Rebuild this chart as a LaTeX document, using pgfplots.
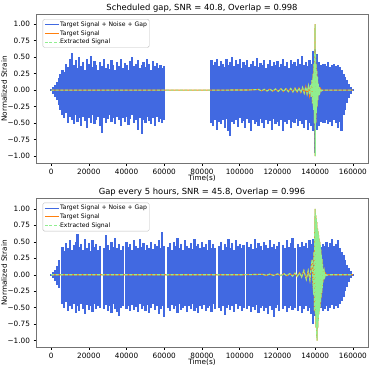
\documentclass[border=0pt]{standalone}
\usepackage{pgfplots}
\usepackage{pgfplotstable}
\pgfplotsset{compat=1.18}
\usepackage{fontspec}
\setmainfont{DejaVu Sans}
\definecolor{royal}{RGB}{65,105,225}
\definecolor{mplorange}{RGB}{255,127,14}
\definecolor{lgreen}{RGB}{144,238,144}

\pgfplotstableread{
x u d
0 0.01 -0.01
1000 0.05 -0.06
2000 0.08 -0.10
3000 0.12 -0.15
4000 0.18 -0.22
5000 0.25 -0.30
6000 0.30 -0.38
7000 0.28 -0.42
8000 0.40 -0.35
9000 0.35 -0.50
10000 0.48 -0.40
11000 0.57 -0.45
12000 0.38 -0.52
13000 0.45 -0.38
14000 0.33 -0.48
15000 0.50 -0.42
16000 0.36 -0.55
17000 0.42 -0.40
18000 0.30 -0.47
19000 0.47 -0.58
20000 0.40 -0.43
21000 0.52 -0.50
22000 0.35 -0.38
23000 0.44 -0.52
24000 0.38 -0.45
25000 0.30 -0.40
26000 0.43 -0.55
27000 0.36 -0.65
28000 0.48 -0.42
29000 0.34 -0.50
30000 0.40 -0.44
31000 0.32 -0.38
32000 0.45 -0.48
33000 0.38 -0.42
34000 0.30 -0.52
35000 0.42 -0.40
36000 0.36 -0.46
37000 0.47 -0.55
38000 0.33 -0.42
39000 0.41 -0.49
40000 0.38 -0.40
41000 0.31 -0.53
42000 0.44 -0.44
43000 0.50 -0.38
44000 0.36 -0.50
45000 0.40 -0.46
46000 0.46 -0.60
47000 0.33 -0.42
48000 0.38 -0.66
49000 0.42 -0.45
50000 0.35 -0.50
51000 0.48 -0.40
52000 0.39 -0.47
53000 0.30 -0.52
54000 0.44 -0.43
55000 0.37 -0.55
56000 0.41 -0.40
57000 0.34 -0.48
58000 0.38 -0.44
59000 0.33 -0.50
60000 0.36 -0.45
85000 0.45 -0.50
86000 0.38 -0.55
87000 0.42 -0.45
88000 0.48 -0.60
89000 0.36 -0.48
90000 0.44 -0.52
91000 0.40 -0.46
92000 0.35 -0.58
93000 0.47 -0.44
94000 0.38 -0.62
95000 0.42 -0.70
96000 0.50 -0.48
97000 0.36 -0.52
98000 0.45 -0.45
99000 0.40 -0.56
100000 0.48 -0.42
101000 0.34 -0.50
102000 0.42 -0.47
103000 0.38 -0.58
104000 0.46 -0.44
105000 0.35 -0.50
106000 0.40 -0.62
107000 0.44 -0.45
108000 0.37 -0.52
109000 0.49 -0.48
110000 0.35 -0.55
111000 0.41 -0.44
112000 0.38 -0.50
113000 0.45 -0.58
114000 0.33 -0.45
115000 0.40 -0.52
116000 0.46 -0.47
117000 0.36 -0.60
118000 0.42 -0.44
119000 0.38 -0.52
120000 0.44 -0.48
121000 0.35 -0.55
122000 0.40 -0.45
123000 0.47 -0.62
124000 0.37 -0.48
125000 0.42 -0.52
126000 0.34 -0.45
127000 0.45 -0.58
128000 0.39 -0.48
129000 0.43 -0.50
130000 0.36 -0.44
131000 0.48 -0.55
132000 0.40 -0.47
133000 0.52 -0.52
134000 0.38 -0.58
135000 0.42 -0.46
136000 0.37 -0.60
137000 0.46 -0.50
138000 0.40 -0.55
139000 0.60 -0.62
140000 0.62 -0.95
141000 0.55 -0.60
142000 0.42 -0.55
143000 0.38 -0.48
144000 0.40 -0.50
145000 0.40 -0.50
146000 0.36 -0.45
147000 0.42 -0.52
148000 0.35 -0.48
149000 0.38 -0.55
150000 0.40 -0.45
151000 0.36 -0.50
152000 0.38 -0.58
153000 0.35 -0.48
154000 0.30 -0.62
155000 0.25 -0.38
156000 0.20 -0.30
157000 0.15 -0.20
158000 0.10 -0.12
159000 0.05 -0.06
160000 0.01 -0.01
}\topnoise

\pgfplotstableread{
x y
0 0
60000 0
85000 0
105000 0.003
110000 0.01
111500 -0.01
113000 0.012
114500 -0.012
116000 0.015
117500 -0.015
119000 0.018
120400 -0.018
121800 0.02
123200 -0.02
124500 0.022
125800 -0.022
127000 0.025
128200 -0.025
129300 0.028
130400 -0.03
131400 0.032
132400 -0.035
133300 0.04
134200 -0.045
135000 0.05
135700 -0.055
136400 0.06
137000 -0.07
137500 0.08
137900 -0.1
138300 0.15
138600 -0.2
138900 0.25
139150 -0.3
139400 0.4
139600 -0.5
139800 0.62
139950 1.0
140050 -1.0
140200 0.55
140350 -0.5
140500 0.4
140650 -0.35
140800 0.3
141000 -0.25
141200 0.2
141400 -0.15
141650 0.1
141900 -0.07
142200 0.05
142500 -0.03
142900 0.02
143400 -0.01
144000 0
160000 0
}\topsig

\pgfplotstableread{
x u d
0 0.01 -0.01
1000 0.04 -0.05
2000 0.08 -0.09
3000 0.14 -0.15
4000 0.22 -0.20
5000 0 0
6000 0.42 -0.45
7000 0.36 -0.50
8000 0.48 -0.42
9000 0.40 -0.55
10000 0.52 -0.47
11000 0.38 -0.52
12000 0.45 -0.44
13000 0.50 -0.58
14000 0.62 -0.48
15000 0.42 -0.55
16000 0.47 -0.45
17000 0.38 -0.52
18000 0.55 -0.60
19000 0.40 -0.46
20000 0.48 -0.53
21000 0.36 -0.48
22000 0.52 -0.56
23000 0.42 -0.44
24000 0.46 -0.52
25000 0.38 -0.47
26000 0.44 -0.50
27000 0 0
28000 0.40 -0.52
29000 0.60 -0.46
30000 0.45 -0.55
31000 0.38 -0.48
32000 0.50 -0.58
33000 0.42 -0.45
34000 0.56 -0.52
35000 0.40 -0.56
36000 0.46 -0.63
37000 0.38 -0.50
38000 0.44 -0.47
39000 0 0
40000 0.50 -0.52
41000 0.42 -0.48
42000 0.47 -0.55
43000 0.38 -0.46
44000 0.52 -0.53
45000 0.44 -0.49
46000 0.40 -0.57
47000 0.55 -0.45
48000 0.42 -0.52
49000 0.48 -0.48
50000 0.37 -0.55
51000 0.45 -0.46
52000 0.41 -0.58
53000 0.50 -0.50
54000 0.39 -0.45
55000 0.47 -0.54
56000 0.43 -0.48
57000 0.52 -0.60
58000 0.40 -0.52
59000 0.65 -0.47
60000 0.44 -0.64
61000 0 0
62000 0.42 -0.50
63000 0.48 -0.55
64000 0.38 -0.46
65000 0.50 -0.52
66000 0.43 -0.48
67000 0.56 -0.58
68000 0.40 -0.45
69000 0.46 -0.53
70000 0.38 -0.50
71000 0.52 -0.47
72000 0.44 -0.56
73000 0.41 -0.48
74000 0.48 -0.52
75000 0.39 -0.45
76000 0.55 -0.55
77000 0.43 -0.50
78000 0.47 -0.58
79000 0.40 -0.47
80000 0.50 -0.52
81000 0.42 -0.46
82000 0.46 -0.55
83000 0.38 -0.50
84000 0.53 -0.48
85000 0.41 -0.56
86000 0.47 -0.45
87000 0.40 -0.52
88000 0 0
89000 0.44 -0.50
90000 0.50 -0.55
91000 0.38 -0.47
92000 0.46 -0.61
93000 0.42 -0.50
94000 0.55 -0.46
95000 0.40 -0.54
96000 0.48 -0.48
97000 0.37 -0.57
98000 0.52 -0.45
99000 0.43 -0.52
100000 0.47 -0.48
101000 0.40 -0.55
102000 0.45 -0.50
103000 0 0
104000 0.50 -0.52
105000 0.42 -0.47
106000 0.46 -0.56
107000 0.39 -0.49
108000 0.54 -0.53
109000 0.41 -0.46
110000 0.48 -0.58
111000 0.43 -0.50
112000 0.37 -0.47
113000 0.50 -0.55
114000 0.45 -0.50
115000 0.40 -0.60
116000 0.52 -0.48
117000 0.42 -0.53
118000 0.47 -0.64
119000 0.39 -0.50
120000 0.44 -0.46
121000 0.50 -0.55
122000 0 0
123000 0.45 -0.52
124000 0.40 -0.48
125000 0.53 -0.56
126000 0.42 -0.50
127000 0.48 -0.47
128000 0.56 -0.54
129000 0.41 -0.50
130000 0 0
131000 0.46 -0.55
132000 0.42 -0.48
133000 0.50 -0.58
134000 0.44 -0.52
135000 0.48 -0.47
136000 0.40 -0.55
137000 0.52 -0.50
138000 0.46 -0.60
139000 0.55 -0.75
140000 0.50 -0.62
141000 0.48 -0.58
142000 0.45 -0.55
143000 0.42 -0.50
144000 0.47 -0.55
145000 0.44 -0.52
146000 0.50 -0.48
147000 0.42 -0.55
148000 0.48 -0.50
149000 0.55 -0.46
150000 0.44 -0.52
151000 0.47 -0.48
152000 0.52 -0.50
153000 0.40 -0.45
154000 0.35 -0.40
155000 0.30 -0.33
156000 0.22 -0.25
157000 0.15 -0.18
158000 0.10 -0.11
159000 0.05 -0.05
160000 0.01 -0.01
}\botnoise

\pgfplotstableread{
x y
0 0
100000 0
110000 0.005
112000 0.008
114000 -0.008
116000 0.01
118000 -0.01
120000 0.012
121800 -0.012
123500 0.015
125000 -0.015
126500 0.018
128000 -0.02
129300 0.025
130500 -0.025
131700 0.03
132800 -0.035
134000 0.065
135300 -0.07
136300 0.06
137200 -0.08
138000 0.15
138400 0.23
138800 -0.1
139200 -0.3
139400 0.35
139600 -0.55
139800 0.7
140000 1.0
140150 -0.6
140300 0.9
140450 -0.8
140600 0.85
140750 -0.95
140900 0.8
141050 -1.0
141200 0.7
141350 -0.8
141500 0.66
141650 -0.7
141800 0.6
141950 -0.6
142100 0.55
142250 -0.55
142400 0.5
142550 -0.5
142700 0.45
142850 -0.42
143000 0.38
143150 -0.35
143300 0.3
143450 -0.28
143600 0.24
143750 -0.2
143900 0.16
144100 -0.12
144300 0.09
144500 -0.06
144800 0.04
145100 -0.03
145500 0.02
146000 -0.01
147000 0
160000 0
}\botsig

\pgfplotsset{
  myaxis/.style={
    scale only axis, width=332pt,
    xmin=-8000, xmax=168000,
    xtick={0,20000,40000,60000,80000,100000,120000,140000,160000},
    xticklabels={0,20000,40000,60000,80000,100000,120000,140000,160000},
    scaled x ticks=false,
    ytick={-1,-0.75,-0.5,-0.25,0,0.25,0.5,0.75,1},
    yticklabels={−1.00,−0.75,−0.50,−0.25,0.00,0.25,0.50,0.75,1.00},
    tick align=outside, tick pos=left, major tick length=2.5pt,
    tick style={black, line width=0.5pt},
    axis line style={black!55, line width=0.7pt},
    ticklabel style={font=\fontsize{7.3}{8}\selectfont},
    label style={font=\fontsize{7.3}{8}\selectfont},
    every axis title shift=0pt,
    title style={font=\fontsize{8.4}{10}\selectfont, at={(axis description cs:0.5,1)}, anchor=south, inner sep=1.8pt},
    xlabel={Time(s)}, ylabel={Normalized Strain},
    xlabel style={at={(axis description cs:0.5,0)}, anchor=north, yshift=-11.8pt, inner sep=0pt},
    ylabel style={at={(axis description cs:-0.096,0.5)}, anchor=center, inner sep=0pt},
    legend cell align=left,
    legend style={at={(axis description cs:0.02,0.971)}, anchor=north west,
      font=\fontsize{6.1}{6.5}\selectfont,
      draw=black!25, rounded corners=1.5pt, fill=white, fill opacity=0.8, text opacity=1,
      inner sep=1.5pt, row sep=1.4pt,
      nodes={inner sep=0.8pt, text height=4.6pt, text depth=1.3pt}},
    legend image code/.code={\draw[##1] (0pt,0pt) -- (14pt,0pt);},
  },
  noise/.style={ycomb, mark=none, royal, line width=2.2pt, forget plot},
  tsig/.style={mplorange, line width=1.1pt, mark=none, forget plot},
  esig/.style={lgreen, line width=1.1pt, dash pattern=on 3pt off 1.6pt, mark=none, forget plot},
}

\begin{document}
\begin{tikzpicture}
\useasboundingbox (0,0) rectangle (374pt,374pt);
\begin{axis}[myaxis, at={(36pt,210.7pt)}, anchor=south west, height=148.6pt,
  ymin=-1.11, ymax=1.145,
  title={Scheduled gap, SNR = 40.8, Overlap = 0.998}]
\addplot[noise] table[x=x,y=u] {\topnoise};
\addplot[noise] table[x=x,y=d] {\topnoise};
\addplot[tsig] table[x=x,y=y] {\topsig};
\addplot[esig] table[x=x,y=y] {\topsig};
\addlegendimage{royal, line width=1pt}
\addlegendentry{Target Signal + Noise + Gap}
\addlegendimage{mplorange, line width=1pt}
\addlegendentry{Target Signal}
\addlegendimage{lgreen, line width=1pt, dash pattern=on 3pt off 1.6pt}
\addlegendentry{Extracted Signal}
\end{axis}
\begin{axis}[myaxis, at={(36pt,26.7pt)}, anchor=south west, height=149pt,
  ymin=-1.10, ymax=1.16,
  title={Gap every 5 hours, SNR = 45.8, Overlap = 0.996}]
\addplot[noise] table[x=x,y=u] {\botnoise};
\addplot[noise] table[x=x,y=d] {\botnoise};
\addplot[tsig] table[x=x,y=y] {\botsig};
\addplot[esig] table[x=x,y=y] {\botsig};
\addlegendimage{royal, line width=1pt}
\addlegendentry{Target Signal + Noise + Gap}
\addlegendimage{mplorange, line width=1pt}
\addlegendentry{Target Signal}
\addlegendimage{lgreen, line width=1pt, dash pattern=on 3pt off 1.6pt}
\addlegendentry{Extracted Signal}
\end{axis}
\end{tikzpicture}
\end{document}
